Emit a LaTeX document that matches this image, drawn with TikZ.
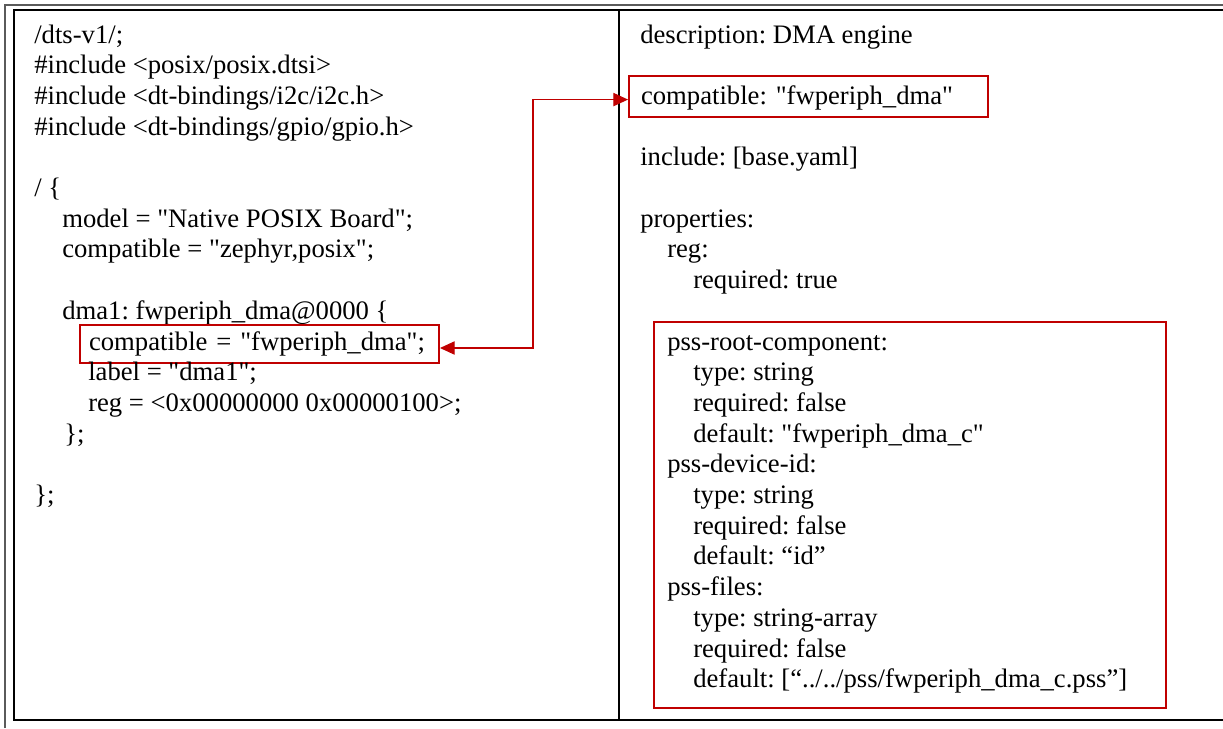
\documentclass[tikz,border=0pt]{standalone}
\usepackage{fontspec}
\setmainfont{Liberation Serif}[Ligatures=TeXOff]
\frenchspacing
\usetikzlibrary{arrows.meta}
\definecolor{boxred}{HTML}{C00000}
\definecolor{framegray}{HTML}{5A5A5A}
\tikzset{
  txt/.style={anchor=base west, inner sep=0pt, font=\frenchspacing\fontsize{20}{23}\selectfont},
  redbox/.style={draw=boxred, line width=1.5pt, anchor=base west, inner xsep=#1, inner ysep=0pt,
     font=\frenchspacing\fontsize{20}{23}\selectfont, align=left},
  link/.style={draw=boxred, line width=0.8pt, {Triangle[length=11pt,width=10pt]}-{Triangle[length=11pt,width=10pt]}},
}
\begin{document}
\begin{tikzpicture}[x=0.75pt,y=-0.75pt]
\useasboundingbox (0,0) rectangle (1223,728);
% frames
\draw[framegray, line width=1.5pt] (5,728) -- (5,5) -- (1223,5);
\draw[black, line width=1.1pt] (1223,10) -- (14,10) -- (14,720) -- (1223,720);
\draw[black, line width=1.1pt] (619,10) -- (619,720);
% left column
\def\ys{30.7}
\node[txt] (l0) at (34,{43+\ys*0}) {/dts-v1/;};
\node[txt] (l1) at (34,{43+\ys*1}) {\#include <posix/posix.dtsi>};
\node[txt] (l2) at (34,{43+\ys*2}) {\#include <dt-bindings/i2c/i2c.h>};
\node[txt] (l3) at (34,{43+\ys*3}) {\#include <dt-bindings/gpio/gpio.h>};
\node[txt] (l5) at (34,{43+\ys*5}) {/ \{};
\node[txt] (l6) at (62,{43+\ys*6}) {model = "Native POSIX Board";};
\node[txt] (l7) at (62,{43+\ys*7}) {compatible = "zephyr,posix";};
\node[txt] (l9) at (62,{43+\ys*9}) {dma1: fwperiph\_dma@0000 \{};
\node[redbox=6.75pt, text width=255.75pt, text height=18.75pt, text depth=9.75pt] (lbox) at (79,{43+\ys*10}) {compatible = "fwperiph\_dma";};
\node[txt] (l11) at (88,{43+\ys*11}) {label = "dma1";};
\node[txt] (l12) at (88,{43+\ys*12}) {reg = <0x00000000 0x00000100>;};
\node[txt] (l13) at (64,{43+\ys*13}) {\};};
\node[txt] (l15) at (34,{43+\ys*15}) {\};};
% right column
\node[txt] (r0) at (640,{43+\ys*0}) {description: DMA engine};
\node[redbox=9pt, text width=251.25pt, text height=21pt, text depth=9.75pt] (rbox) at (628,{43+\ys*2}) {compatible: "fwperiph\_dma"};
\node[txt] (r4) at (640,{43+\ys*4}) {include: [base.yaml]};
\node[txt] (r6) at (640,{43+\ys*6}) {properties:};
\node[txt] (r7) at (667,{43+\ys*7}) {reg:};
\node[txt] (r8) at (693,{43+\ys*8}) {required: true};
\node[txt] (r10) at (667,{43+\ys*10}) {pss-root-component:};
\node[txt] (r11) at (693,{43+\ys*11}) {type: string};
\node[txt] (r12) at (693,{43+\ys*12}) {required: false};
\node[txt] (r13) at (693,{43+\ys*13}) {default: "fwperiph\_dma\_c"};
\node[txt] (r14) at (667,{43+\ys*14}) {pss-device-id:};
\node[txt] (r15) at (693,{43+\ys*15}) {type: string};
\node[txt] (r16) at (693,{43+\ys*16}) {required: false};
\node[txt] (r17) at (693,{43+\ys*17}) {default: “id”};
\node[txt] (r18) at (667,{43+\ys*18}) {pss-files:};
\node[txt] (r19) at (693,{43+\ys*19}) {type: string-array};
\node[txt] (r20) at (693,{43+\ys*20}) {required: false};
\node[txt] (r21) at (693,{43+\ys*21}) {default: [“../../pss/fwperiph\_dma\_c.pss”]};
\draw[boxred, line width=1.5pt] (654,322) rectangle (1166,708);
% connector
\coordinate (bend) at (533,0);
\draw[link] ([yshift=-3pt]lbox.east) -- ([yshift=-3pt]lbox.east -| bend) |- ([yshift=-2pt]rbox.west);
\end{tikzpicture}
\end{document}
